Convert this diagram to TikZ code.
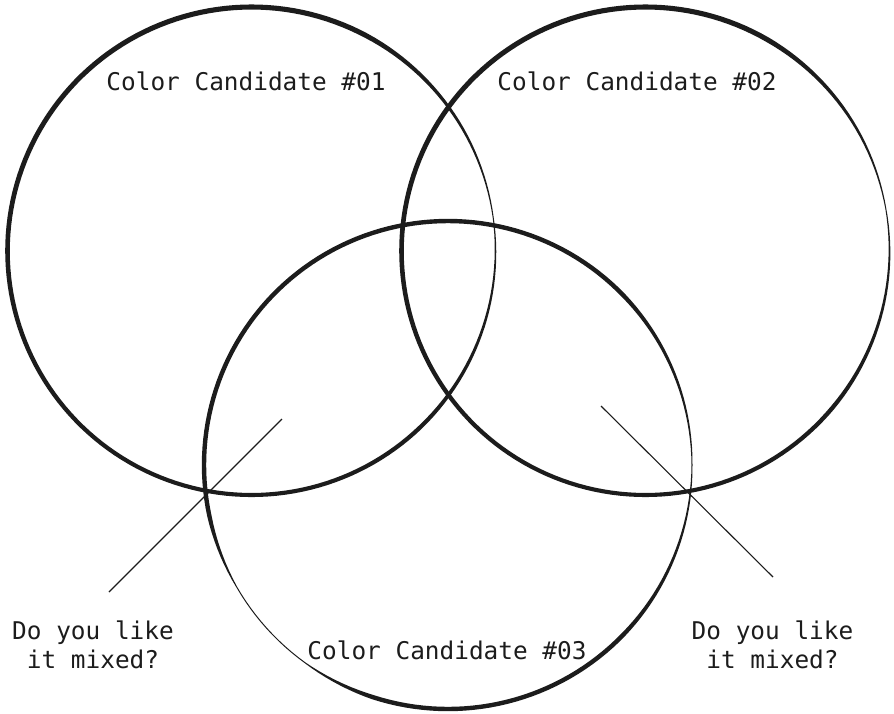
\documentclass[tikz,border=0pt]{standalone}
\usepackage{fontspec}
\setmonofont{DejaVu Sans Mono}
\usepackage{xcolor}
\definecolor{ink}{HTML}{1C1C1C}

% ring with a brush stroke: centre x, centre y, width as a function of \x
\newcommand\brushring[3]{%
  \fill[ink,even odd rule]
    plot[domain=0:360,samples=181] ({#1+(244+0.5*(#3))*cos(\x)},{#2-(244+0.5*(#3))*sin(\x)}) -- cycle
    plot[domain=0:360,samples=181] ({#1+(244-0.5*(#3))*cos(\x)},{#2-(244-0.5*(#3))*sin(\x)}) -- cycle;}

\begin{document}
\begin{tikzpicture}[x=1pt,y=-1pt,
  label/.style={font=\fontsize{24.4}{28.5}\selectfont\ttfamily,text=ink,inner sep=0pt},
  pointer/.style={draw=ink,line width=1.1pt},
  declare function={
    dang(\ta,\tb)=180-abs(mod(\ta-\tb+720,360)-180);
    taper(\ta,\tb,\tw)=min(1,dang(\ta,\tb)/\tw);
    taperf(\ta,\tb,\tf,\tw)=min(1,max(0,dang(\ta,\tb)-\tf)/\tw);
  }]
\useasboundingbox (0,0) rectangle (894,713);

\brushring{251.5}{251}{1+taper(\x,8,55)*(3.6+0.5*sin(\x))}
\brushring{645.5}{251}{1+taper(\x,10,50)*(3.6+0.5*sin(\x))}
\brushring{448}{465}{1+3.4*taper(\x,0,45)*taperf(\x,222,12,18)}

\node[label,anchor=base] (cand1) at (246,90) {Color Candidate \#01};
\node[label,anchor=base] (cand2) at (637,90) {Color Candidate \#02};
\node[label,anchor=base] (cand3) at (447,659) {Color Candidate \#03};

\node[label,anchor=base,align=center] (askL) at (93,668) {Do you like\\it mixed?};
\node[label,anchor=base,align=center] (askR) at (772.5,668) {Do you like\\it mixed?};

\coordinate (mixL) at (282,419);
\coordinate (tipL) at (109,592);
\coordinate (mixR) at (601,406);
\coordinate (tipR) at (773,577);
\draw[pointer] (mixL) -- (tipL);
\draw[pointer] (mixR) -- (tipR);
\end{tikzpicture}
\end{document}
